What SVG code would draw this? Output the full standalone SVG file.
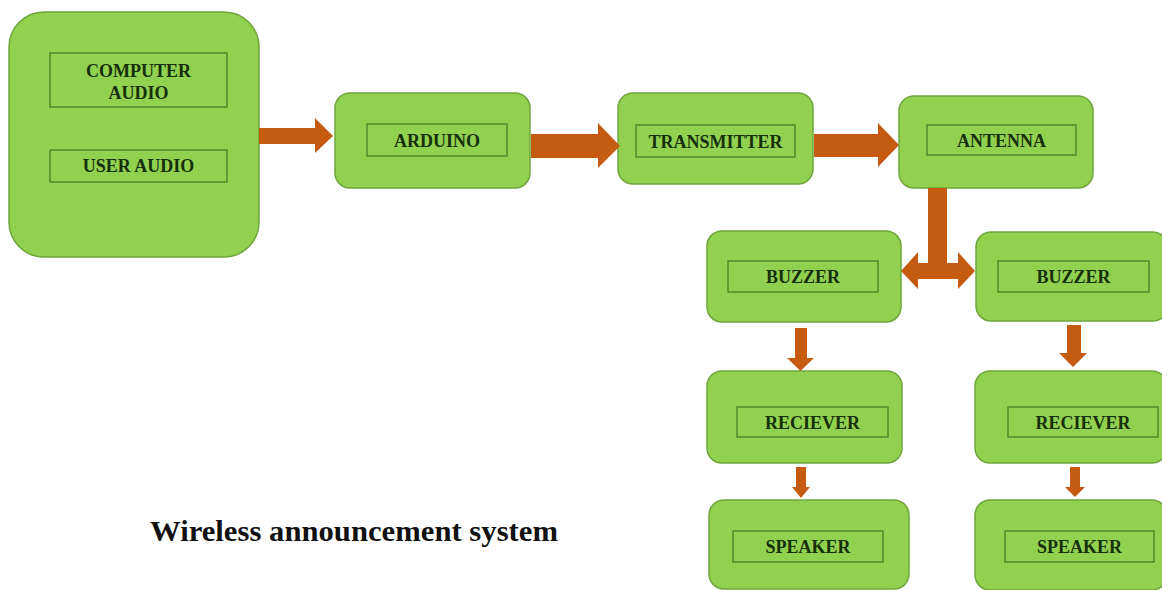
<svg xmlns="http://www.w3.org/2000/svg" width="1162" height="590" viewBox="0 0 1162 590">
<style>
.box{fill:#92d050;stroke:#6ea63c;stroke-width:1.5}
.inner{fill:#92d050;stroke:#3c7a22;stroke-width:1.2}
.lbl{font-family:"Liberation Serif","Times New Roman",serif;font-weight:bold;font-size:18px;fill:#15300a;text-anchor:middle}
.arrow{fill:#c55a11}
.title{font-family:"Liberation Serif","Times New Roman",serif;font-weight:bold;font-size:30px;fill:#111}
</style>
<rect width="1162" height="590" fill="#ffffff"/>
<g id="source">
<rect class="box" x="9" y="12" width="250" height="245" rx="35"/>
<rect class="inner" x="50" y="53" width="177" height="54"/>
<text class="lbl" x="138.5" y="77">COMPUTER</text>
<text class="lbl" x="138.5" y="99">AUDIO</text>
<rect class="inner" x="50" y="150" width="177" height="32"/>
<text class="lbl" x="138.5" y="172">USER AUDIO</text>
</g>
<g id="arduino">
<rect class="box" x="335" y="93" width="195" height="95" rx="15"/>
<rect class="inner" x="367" y="124" width="140" height="32"/>
<text class="lbl" x="437" y="147">ARDUINO</text>
</g>
<g id="transmitter">
<rect class="box" x="618" y="93" width="195" height="91" rx="15"/>
<rect class="inner" x="636" y="125" width="159" height="32"/>
<text class="lbl" x="715.5" y="148">TRANSMITTER</text>
</g>
<g id="antenna">
<rect class="box" x="899" y="96" width="194" height="92" rx="15"/>
<rect class="inner" x="927" y="125" width="149" height="30"/>
<text class="lbl" x="1001.5" y="147">ANTENNA</text>
</g>
<g id="buzzer-left">
<rect class="box" x="707" y="231" width="194" height="91" rx="15"/>
<rect class="inner" x="728" y="261" width="150" height="31"/>
<text class="lbl" x="803" y="283">BUZZER</text>
</g>
<g id="buzzer-right">
<rect class="box" x="976" y="232" width="192" height="89" rx="15"/>
<rect class="inner" x="998" y="261" width="151" height="31"/>
<text class="lbl" x="1073.5" y="283">BUZZER</text>
</g>
<g id="receiver-left">
<rect class="box" x="707" y="371" width="195" height="92" rx="15"/>
<rect class="inner" x="737" y="407" width="151" height="30"/>
<text class="lbl" x="812.5" y="429">RECIEVER</text>
</g>
<g id="receiver-right">
<rect class="box" x="975" y="371" width="192" height="92" rx="15"/>
<rect class="inner" x="1008" y="407" width="150" height="30"/>
<text class="lbl" x="1083" y="429">RECIEVER</text>
</g>
<g id="speaker-left">
<rect class="box" x="709" y="500" width="200" height="89" rx="15"/>
<rect class="inner" x="733" y="531" width="150" height="31"/>
<text class="lbl" x="808" y="553">SPEAKER</text>
</g>
<g id="speaker-right">
<rect class="box" x="975" y="500" width="192" height="90" rx="15"/>
<rect class="inner" x="1005" y="531" width="149" height="31"/>
<text class="lbl" x="1079.5" y="553">SPEAKER</text>
</g>
<g id="connectors">
<polygon class="arrow" points="259,128 315,128 315,118 333,136 315,153 315,144 259,144"/>
<polygon class="arrow" points="531,134 598,134 598,123 620,146 598,168 598,158 531,158"/>
<polygon class="arrow" points="814,134 878,134 878,123 899,145 878,167 878,157 814,157"/>
<polygon class="arrow" points="928,188 947,188 947,263 958,263 958,252 975,271 958,289 958,279 918,279 918,289 901,271 918,252 918,263 928,263"/>
<polygon class="arrow" points="795,328 807,328 807,358 814,358 800.5,371 787,358 795,358"/>
<polygon class="arrow" points="796,467 806,467 806,487 810,487 801,498 792,487 796,487"/>
<polygon class="arrow" points="1067,325 1081,325 1081,353 1087,353 1073,367 1059,353 1067,353"/>
<polygon class="arrow" points="1070,467 1080,467 1080,487 1085,487 1075,497 1065,487 1070,487"/>
</g>
<text class="title" x="150" y="541" textLength="408" lengthAdjust="spacingAndGlyphs">Wireless announcement system</text>
</svg>
